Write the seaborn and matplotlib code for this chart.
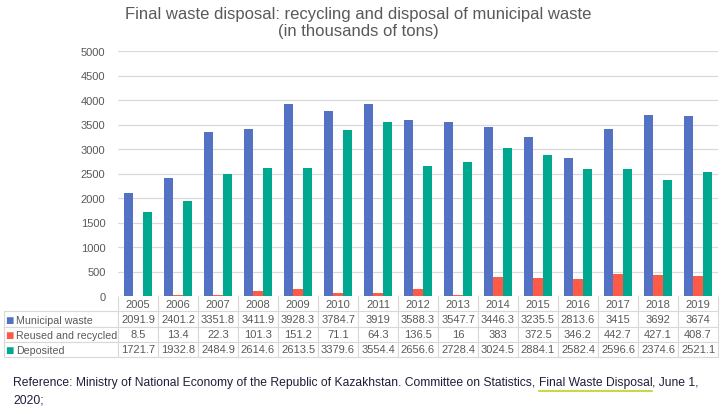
import numpy as np
import pandas as pd
import seaborn as sns
import matplotlib.pyplot as plt

years = [str(y) for y in range(2005, 2020)]
municipal = [2091.9, 2401.2, 3351.8, 3411.9, 3928.3, 3784.7, 3919, 3588.3,
             3547.7, 3446.3, 3235.5, 2813.6, 3415, 3692, 3674]
recycled = [8.5, 13.4, 22.3, 101.3, 151.2, 71.1, 64.3, 136.5,
            16, 383, 372.5, 346.2, 442.7, 427.1, 408.7]
deposited = [1721.7, 1932.8, 2484.9, 2614.6, 2613.5, 3379.6, 3554.4, 2656.6,
             2728.4, 3024.5, 2884.1, 2582.4, 2596.6, 2374.6, 2521.1]
series_names = ["Municipal waste", "Reused and recycled", "Deposited"]
colors = ["#5472C4", "#FF5A45", "#00A88F"]
yticks = list(range(0, 5001, 500))

df = pd.DataFrame({
    "year": years * 3,
    "value": municipal + recycled + deposited,
    "series": np.repeat(series_names, len(years)),
})

sns.set_theme(style="white")
plt.rcParams["font.family"] = ["Liberation Sans", "DejaVu Sans"]

fig = plt.figure(figsize=(7.22, 4.10), dpi=100)
ax = fig.add_axes([118 / 722, 113 / 410, 600 / 722, 245 / 410])

sns.barplot(data=df, x="year", y="value", hue="series", palette=colors,
            width=0.68, errorbar=None, ax=ax, legend=False, saturation=1,
            linewidth=0)
for bar in ax.patches:
    bar.set_antialiased(False)
ax.set_ylim(0, 5000)
ax.set_yticks(yticks)
ax.set_yticklabels([str(t) for t in yticks], fontsize=8, color="#595959")
ax.tick_params(axis="y", length=0, pad=9)
ax.set_xticks([])
ax.set_xlabel("")
ax.set_ylabel("")
ax.grid(axis="y", color="#D9D9D9", linewidth=0.9)
ax.set_axisbelow(True)
for s in ax.spines.values():
    s.set_visible(False)

fig.text(0.496, 0.965, "Final waste disposal: recycling and disposal of municipal waste",
         ha="center", va="center", fontsize=12, color="#595959")
fig.text(0.496, 0.922, "(in thousands of tons)",
         ha="center", va="center", fontsize=12, color="#595959")

# data table under the bars
cell_text = [[""] + years]
for vals in [municipal, recycled, deposited]:
    cell_text.append([""] + [f"{v:g}" for v in vals])

left = (4 - 118) / 600
tbl = ax.table(cellText=cell_text, bbox=[left, -61 / 245, 1 - left, 61 / 245],
               cellLoc="center", colWidths=[114] + [40] * 15)
tbl.auto_set_font_size(False)
tbl.set_fontsize(8)
for (r, c), cell in tbl.get_celld().items():
    cell.set_edgecolor("#D9D9D9")
    cell.set_linewidth(0.8)
    cell.get_text().set_color("#595959")
    if r == 0 and c == 0:
        cell.visible_edges = ""
    elif r == 0:
        cell.visible_edges = "LR"

# row labels with colour keys
for i, (name, col) in enumerate(zip(series_names, colors)):
    yc = (297 - 321.5 - 14.8 * i) / 245
    ax.text((5 - 118) / 600, yc, "■", transform=ax.transAxes, color=col,
            fontsize=10, va="center", ha="left", clip_on=False)
    ax.text((16 - 118) / 600, yc, name, transform=ax.transAxes, color="#595959",
            fontsize=7.7, va="center", ha="left", clip_on=False)

# reference line with underlined link
fig.canvas.draw()
renderer = fig.canvas.get_renderer()
y1 = 1 - 383 / 410
parts = ["Reference: Ministry of National Economy of the Republic of Kazakhstan. Committee on Statistics, ",
         "Final Waste Disposal", ", June 1,"]
x = 13 / 722
for k, p in enumerate(parts):
    t = fig.text(x, y1, p, fontsize=8.75, color="#1F1F3A", va="center", ha="left")
    bb = t.get_window_extent(renderer)
    if k == 1:
        uy = (410 - 392) / 410
        fig.add_artist(plt.Line2D([bb.x0 / 722, bb.x1 / 722], [uy, uy],
                                  color="#C8D84A", linewidth=1.5))
    x = bb.x1 / 722
fig.text(13 / 722, 1 - 401 / 410, "2020;", fontsize=8.75, color="#1F1F3A",
         va="center", ha="left")

fig.savefig("out.png", dpi=100)
